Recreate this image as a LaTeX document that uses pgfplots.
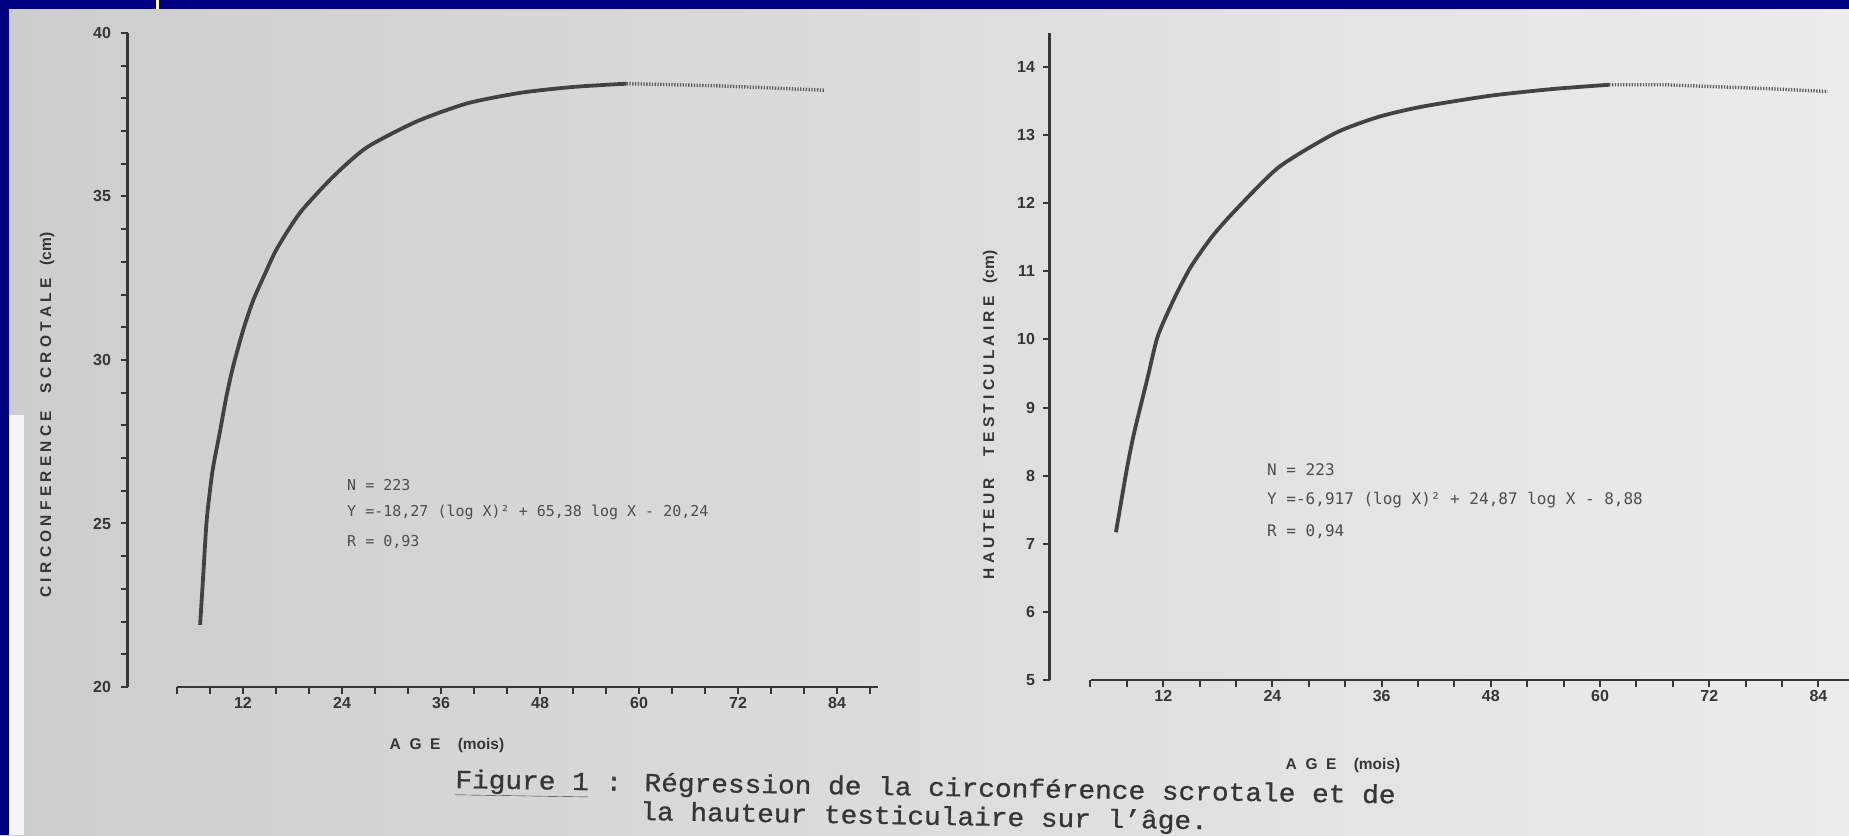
\documentclass[border=0pt]{standalone}
\usepackage{fontspec}
\setmainfont{Liberation Sans}
\newfontfamily\eqfont{DejaVu Sans Mono}
\newfontfamily\capfont[FakeBold=0.8]{Liberation Mono}
\usepackage{pgfplots}
\pgfplotsset{compat=1.18}
\definecolor{Navy}{HTML}{000080}
\definecolor{PaperL}{HTML}{CDCDCD}
\definecolor{PaperR}{HTML}{ECECEC}
\definecolor{Ink}{HTML}{363636}
\definecolor{Curve}{HTML}{424242}
\definecolor{EqInk}{HTML}{4E4E4E}

\pgfplotsset{
  scan/.style={
    scale only axis,
    axis lines*=left,
    axis line style={Ink, line width=2.4pt},
    tick style={Ink, line width=2pt},
    tick align=outside,
    major tick length=7pt,
    minor tick length=7pt,
    ticklabel style={font=\fontsize{16}{18}\selectfont\bfseries, text=Ink},
    /pgf/number format/assume math mode=true,
    clip=false,
  },
}

\begin{document}
\begin{tikzpicture}[x=1pt,y=1pt]
  \useasboundingbox (0,0) rectangle (1849,835);
  \clip (0,0) rectangle (1849,835);
  \shade[left color=PaperL, right color=PaperR] (0,0) rectangle (1849,835);
  \fill[Navy] (0,826) rectangle (1849,835);
  \fill[Navy] (0,0) rectangle (9,835);
  \fill[white!80!PaperL] (9,0) rectangle (24,420);
  \fill[yellow!35] (156,826) rectangle (158.5,835);

  % circonference scrotale
  \begin{axis}[scan,
      at={(127.5pt,148pt)}, anchor=south west,
      width=750.75pt, height=654pt,
      xmin=-2, xmax=89, ymin=20, ymax=40,
      x axis line style={shorten <=49.5pt},
      xtick={12,24,...,84},
      minor xtick={4,8,16,20,28,32,40,44,52,56,64,68,76,80,88},
      ytick={20,25,...,40},
      minor ytick={21,22,23,24,26,27,28,29,31,32,33,34,36,37,38,39},
      yticklabel style={xshift=-6pt},
    ]
    \addplot[Curve, line width=3.8pt, smooth, tension=0.4] coordinates {
      (6.8,21.9) (7.2,23.5) (7.6,25.1) (8.3,26.6) (9.2,27.8) (10.0,28.9)
      (10.8,29.8) (12.0,30.9) (13.2,31.8) (14.6,32.6) (16.1,33.4)
      (18.9,34.5) (22.9,35.6) (27.0,36.5) (33.1,37.3) (39.2,37.85)
      (45.6,38.17) (52.0,38.35) (58.5,38.45)
    };
    \addplot[Curve!85, line width=3.4pt, dash pattern=on 1.3pt off 1.5pt] coordinates {
      (58.5,38.45) (64,38.42) (70,38.38) (76,38.32) (82.5,38.25)
    };
  \end{axis}

  % hauteur testiculaire
  \begin{axis}[scan,
      at={(1049.5pt,155pt)}, anchor=south west,
      width=800.8pt, height=647pt,
      xmin=-0.5, xmax=87.5, ymin=5, ymax=14.5,
      x axis line style={shorten <=41pt},
      xtick={12,24,...,84},
      minor xtick={4,8,16,20,28,32,40,44,52,56,64,68,76,80},
      ytick={5,6,...,14},
      yticklabel style={xshift=-4pt},
    ]
    \addplot[Curve, line width=3.8pt, smooth, tension=0.4] coordinates {
      (6.8,7.17) (8.0,8.1) (8.8,8.63) (10.3,9.45) (11.4,10.05) (13.2,10.6)
      (15.0,11.06) (17.3,11.5) (19.8,11.88) (24.7,12.53) (30.9,13.03)
      (35.7,13.27) (40.5,13.42) (48.0,13.58) (55.0,13.68) (61.0,13.74)
    };
    \addplot[Curve!85, line width=3.4pt, dash pattern=on 1.3pt off 1.5pt] coordinates {
      (61,13.74) (67,13.74) (73,13.71) (79,13.68) (85,13.64)
    };
  \end{axis}

  % axis titles
  \begin{scope}[every node/.style={text=Ink, font=\fontsize{15.5}{17}\selectfont\bfseries}]
    \node[rotate=90] at (47,420) {C I R C O N F E R E N C E \ \ \ S C R O T A L E \ \ (cm)};
    \node[rotate=90] at (990,420) {H A U T E U R \ \ \ \ T E S T I C U L A I R E \ \ (cm)};
    \node at (447,90) {A \ G \ E \ \ \ (mois)};
    \node at (1343,70) {A \ G \ E \ \ \ (mois)};
  \end{scope}

  % regression equations
  \begin{scope}[every node/.style={anchor=west, text=EqInk, inner sep=0pt}]
    \node[font=\eqfont\fontsize{15}{17}\selectfont] at (347,350) {N = 223};
    \node[font=\eqfont\fontsize{15}{17}\selectfont] at (347,323) {Y =-18,27 (log X)² + 65,38 log X - 20,24};
    \node[font=\eqfont\fontsize{15}{17}\selectfont] at (347,293) {R = 0,93};
    \node[font=\eqfont\fontsize{16}{18}\selectfont] at (1267,365) {N = 223};
    \node[font=\eqfont\fontsize{16}{18}\selectfont] at (1267,335) {Y =-6,917 (log X)² + 24,87 log X - 8,88};
    \node[font=\eqfont\fontsize{16}{18}\selectfont] at (1267,303) {R = 0,94};
  \end{scope}

  % caption
  \begin{scope}[every node/.style={anchor=base west, text=Ink, inner sep=0pt,
      font=\capfont\fontsize{26}{28}\selectfont, xscale=1.07, rotate=-1.0}]
    \node at (455,47) {\underline{Figure 1} : Régression de la circonférence scrotale et de};
    \node at (640,15) {la hauteur testiculaire sur l’âge.};
  \end{scope}
\end{tikzpicture}
\end{document}
